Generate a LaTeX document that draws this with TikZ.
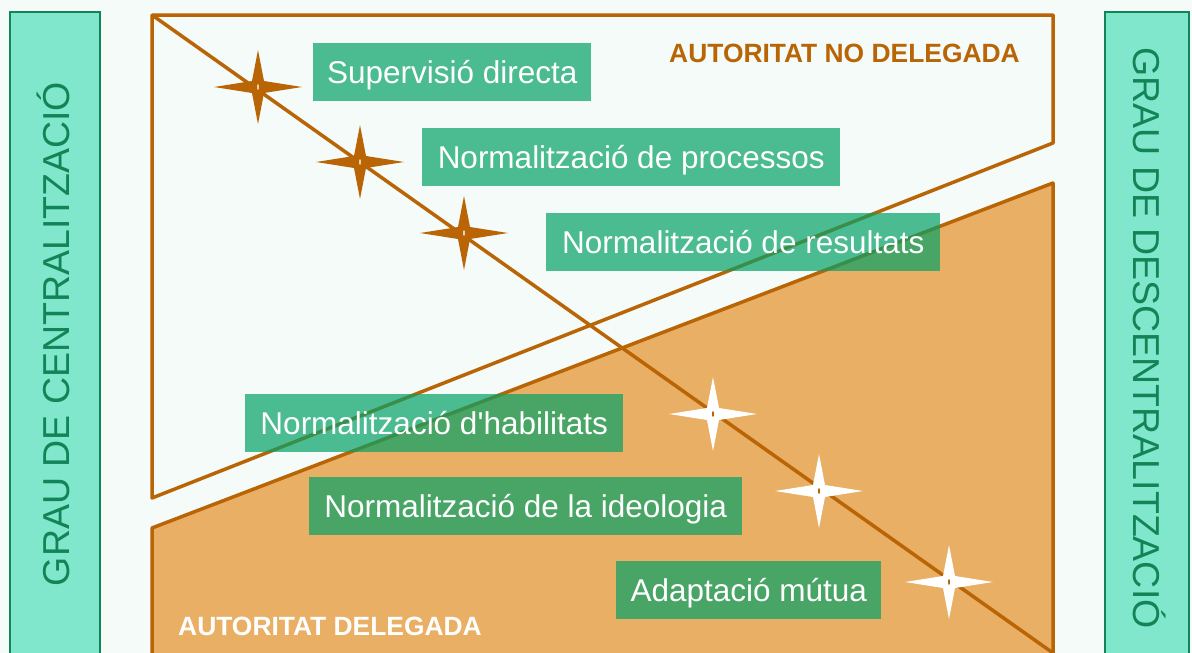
\documentclass[tikz,border=0pt]{standalone}
\usepackage{fontspec}
\setmainfont{Liberation Sans}[Ligatures=TeXOff]
\definecolor{brn}{HTML}{B96506}
\definecolor{org}{HTML}{E9AF64}
\definecolor{mint}{HTML}{80E6CC}
\definecolor{dgreen}{HTML}{138456}
\definecolor{lblg}{RGB}{4,161,104}
\definecolor{bgc}{HTML}{F4FBF8}
\tikzset{
  lbl/.style={rectangle, fill=lblg, fill opacity=0.7, text opacity=1, text=white,
    font=\fontsize{31.5}{36}\selectfont, inner sep=0pt, text height=22.5pt, text depth=0pt},
  side/.style={draw=dgreen, line width=2pt, fill=mint},
  sidetext/.style={text=dgreen, font=\fontsize{37.5}{42}\selectfont, inner sep=0pt, text height=27pt, text depth=0pt},
  boldtext/.style={font=\bfseries\fontsize{26.4}{30}\selectfont, inner sep=0pt, text height=19pt, text depth=0pt},
  frame/.style={draw=brn, line width=3.5pt, line join=round},
  star4/.pic={\fill (44,0) -- (6,-6) -- (0,-37) -- (-6,-6) -- (-44,0) -- (-6,6) -- (0,37) -- (6,6) -- cycle;},
  dotc/.pic={\fill (0,0) ellipse (1 and 3);}
}
\begin{document}
\begin{tikzpicture}[x=1pt, y=-1pt]
\useasboundingbox (0,0) rectangle (1192,653);
\clip (0,0) rectangle (1192,653);
\fill[bgc] (0,0) rectangle (1192,653);
% side bars
\draw[side] (10,12) rectangle (100,670);
\draw[side] (1105,12) rectangle (1189,670);
\node[sidetext, rotate=90] (central) at (56,334) {GRAU DE CENTRALITZACIÓ};
\node[sidetext, rotate=-90] (descentral) at (1147,338) {GRAU DE DESCENTRALITZACIÓ};
% shapes
\draw[frame, fill=org] (152,528) -- (1053,183) -- (1053,670) -- (152,670) -- cycle;
\draw[frame] (152,15) -- (1053,15) -- (1053,143) -- (152,498) -- cycle;
\coordinate (tl) at (152,15);
\coordinate (br) at (1053,653);
\draw[brn, line width=3.5pt] (tl) -- (br);
% stars
\coordinate (s1) at (258,87);
\coordinate (s2) at (360,162);
\coordinate (s3) at (464,233);
\coordinate (s4) at (713,414);
\coordinate (s5) at (819,491);
\coordinate (s6) at (949,582);
\foreach \s in {s1,s2,s3} {\pic[color=brn] at (\s) {star4}; \pic[color=org!60!white] at (\s) {dotc};}
\foreach \s in {s4,s5,s6} {\pic[color=white] at (\s) {star4}; \pic[color=brn] at (\s) {dotc};}
% texts
\node[boldtext, text=brn] (nodel) at (844.5,53) {AUTORITAT NO DELEGADA};
\node[boldtext, text=white] (del) at (330,626) {AUTORITAT DELEGADA};
% labels
\node[lbl, minimum width=278pt, minimum height=58pt, anchor=north west] (sup) at (313,43) {Supervisió directa};
\node[lbl, minimum width=418pt, minimum height=58pt, anchor=north west] (proc) at (422,128) {Normalització de processos};
\node[lbl, minimum width=394pt, minimum height=58pt, anchor=north west] (res) at (546,213) {Normalització de resultats};
\node[lbl, minimum width=378pt, minimum height=58pt, anchor=north west] (hab) at (245,394) {Normalització d'habilitats};
\node[lbl, minimum width=433pt, minimum height=58pt, anchor=north west] (ideo) at (309,477) {Normalització de la ideologia};
\node[lbl, minimum width=265pt, minimum height=58pt, anchor=north west] (adapt) at (616,561) {Adaptació mútua};
\end{tikzpicture}
\end{document}
